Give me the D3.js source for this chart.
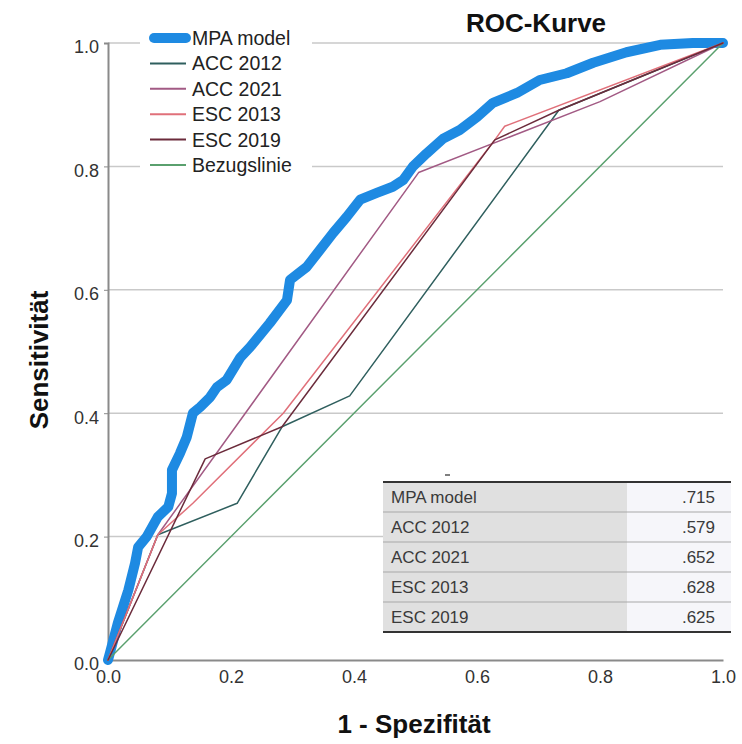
<!DOCTYPE html>
<html>
<head>
<meta charset="utf-8">
<script src="https://cdn.jsdelivr.net/npm/d3@7"></script>
<style>
  html, body { margin: 0; padding: 0; background: #fff; }
  svg { display: block; font-family: "Liberation Sans", Arial, sans-serif; }
</style>
</head>
<body>
<svg id="chart" width="742" height="744"></svg>
<script>
// ---------- DATA ----------
const seriesNames = ["MPA model", "ACC 2012", "ACC 2021", "ESC 2013", "ESC 2019", "Bezugslinie"];
const aucValues = [".715", ".579", ".652", ".628", ".625"];
const tickValues = [0, 0.2, 0.4, 0.6, 0.8, 1.0];

const mpaFpr = [0, 0.003, 0.016, 0.033, 0.044, 0.049, 0.063, 0.081, 0.098, 0.104, 0.104, 0.117, 0.128, 0.138, 0.15, 0.166, 0.177, 0.193, 0.215, 0.231, 0.263, 0.291, 0.296, 0.323, 0.345, 0.366, 0.388, 0.41, 0.437, 0.463, 0.48, 0.496, 0.518, 0.545, 0.572, 0.6, 0.626, 0.665, 0.702, 0.746, 0.789, 0.843, 0.898, 0.951, 1];
const mpaTpr = [0, 0.011, 0.06, 0.113, 0.157, 0.183, 0.2, 0.232, 0.248, 0.27, 0.308, 0.335, 0.361, 0.4, 0.41, 0.426, 0.442, 0.454, 0.49, 0.507, 0.546, 0.583, 0.616, 0.637, 0.665, 0.692, 0.718, 0.746, 0.757, 0.767, 0.778, 0.8, 0.821, 0.845, 0.859, 0.88, 0.903, 0.919, 0.94, 0.951, 0.968, 0.985, 0.997, 1, 1];

const acc2012Fpr = [0, 0.081, 0.21, 0.283, 0.393, 0.733, 1];
const acc2012Tpr = [0, 0.203, 0.254, 0.378, 0.428, 0.891, 1];

const acc2021Fpr = [0, 0.081, 0.505, 0.8, 1];
const acc2021Tpr = [0, 0.203, 0.79, 0.905, 1];

const esc2013Fpr = [0, 0.081, 0.138, 0.285, 0.629, 0.645, 1];
const esc2013Tpr = [0, 0.203, 0.254, 0.40, 0.843, 0.865, 1];

const esc2019Fpr = [0, 0.158, 0.283, 0.629, 0.733, 1];
const esc2019Tpr = [0, 0.326, 0.378, 0.843, 0.891, 1];

const refFpr = [0, 1];
const refTpr = [0, 1];

// ---------- STYLE ----------
const colors = ["#1e8ae2", "#2f5f5e", "#a25a84", "#e0707a", "#6b2b3b", "#5aa06e"];
const widths = [10, 1.5, 1.5, 1.5, 1.5, 1.5];

const svg = d3.select("#chart");
const x = d3.scaleLinear().domain([0, 1]).range([108, 723]);
const y = d3.scaleLinear().domain([0, 1]).range([660, 43]);

// Gridlines (horizontal)
svg.append("g").selectAll("line").data(tickValues.filter(d => d > 0)).join("line")
  .attr("x1", x(0)).attr("x2", x(1))
  .attr("y1", d => y(d)).attr("y2", d => y(d))
  .attr("stroke", "#c9c9c9").attr("stroke-width", 1.5);

// Axes
const yAxis = d3.axisLeft(y).tickValues(tickValues).tickFormat(d3.format(".1f")).tickSize(4).tickPadding(5);
const xAxis = d3.axisBottom(x).tickValues(tickValues).tickFormat(d3.format(".1f")).tickSize(0).tickPadding(10);

const gy = svg.append("g").attr("transform", `translate(${x(0)},0)`).call(yAxis);
const gx = svg.append("g").attr("transform", `translate(0,${y(0)})`).call(xAxis);
[gy, gx].forEach(g => {
  g.select(".domain").attr("stroke", "#8a8a8a").attr("stroke-width", 2);
  g.selectAll(".tick line").attr("stroke", "#8a8a8a");
  g.selectAll(".tick text").attr("fill", "#333").style("font-size", "18px")
    .style("font-family", '"Liberation Sans", Arial, sans-serif');
});
gy.selectAll(".tick text").attr("dy", "0.55em");

// Curves
const seriesFpr = [mpaFpr, acc2012Fpr, acc2021Fpr, esc2013Fpr, esc2019Fpr, refFpr];
const seriesTpr = [mpaTpr, acc2012Tpr, acc2021Tpr, esc2013Tpr, esc2019Tpr, refTpr];
const line = d3.line().x(d => x(d[0])).y(d => y(d[1]));
const drawOrder = [0, 5, 1, 2, 3, 4];
drawOrder.forEach(i => {
  const pts = seriesFpr[i].map((v, k) => [v, seriesTpr[i][k]]);
  svg.append("path").datum(pts)
    .attr("d", line)
    .attr("fill", "none")
    .attr("stroke", colors[i])
    .attr("stroke-width", widths[i])
    .attr("stroke-linejoin", "round")
    .attr("stroke-linecap", "round");
});

// Title
svg.append("text").attr("x", 536).attr("y", 32).attr("text-anchor", "middle")
  .style("font-size", "26px").style("font-weight", "bold").attr("fill", "#111").text("ROC-Kurve");

// Axis titles
svg.append("text").attr("x", 414).attr("y", 733).attr("text-anchor", "middle")
  .style("font-size", "26px").style("font-weight", "bold").attr("fill", "#111").text("1 - Spezifität");
svg.append("text").attr("transform", "translate(48,360) rotate(-90)").attr("text-anchor", "middle")
  .style("font-size", "26px").style("font-weight", "bold").attr("fill", "#111").text("Sensitivität");

// Legend
const lg = svg.append("g");
lg.append("rect").attr("x", 140).attr("y", 24).attr("width", 172).attr("height", 154).attr("fill", "#fff");
const rowY = d3.scaleLinear().domain([0, 5]).range([38, 165]);
seriesNames.forEach((name, i) => {
  const cy = rowY(i);
  lg.append("line").attr("x1", i === 0 ? 154 : 150).attr("x2", 186)
    .attr("y1", cy).attr("y2", cy)
    .attr("stroke", colors[i]).attr("stroke-width", i === 0 ? 10 : 2)
    .attr("stroke-linecap", i === 0 ? "round" : "butt");
  lg.append("text").attr("x", 192).attr("y", cy + 7)
    .style("font-size", "19.5px").attr("fill", "#222").text(name);
});

// AUC table
const tg = svg.append("g");
const tLeft = 383, tMid = 627, tRight = 731, tTop = 482, rowH = 30;
const rowsY = d3.scaleLinear().domain([0, 5]).range([tTop, tTop + 5 * rowH]);
tg.append("rect").attr("x", tLeft).attr("y", tTop).attr("width", tMid - tLeft).attr("height", 5 * rowH).attr("fill", "#e0e0e0");
tg.append("rect").attr("x", tMid).attr("y", tTop).attr("width", tRight - tMid).attr("height", 5 * rowH).attr("fill", "#f6f6fa");
seriesNames.slice(0, 5).forEach((name, i) => {
  const top = rowsY(i);
  if (i > 0) {
    tg.append("line").attr("x1", tLeft).attr("x2", tRight).attr("y1", top).attr("y2", top)
      .attr("stroke", "#a8a8a8").attr("stroke-width", 1);
  }
  tg.append("text").attr("x", tLeft + 8).attr("y", top + rowH / 2 + 6)
    .style("font-size", "17px").attr("fill", "#3a3a3a").text(name);
  tg.append("text").attr("x", 715).attr("y", top + rowH / 2 + 6).attr("text-anchor", "end")
    .style("font-size", "17px").attr("fill", "#3a3a3a").text(aucValues[i]);
});
tg.append("line").attr("x1", tLeft).attr("x2", tRight).attr("y1", tTop).attr("y2", tTop)
  .attr("stroke", "#333").attr("stroke-width", 2);
tg.append("line").attr("x1", tLeft).attr("x2", tRight).attr("y1", rowsY(5)).attr("y2", rowsY(5))
  .attr("stroke", "#333").attr("stroke-width", 2);
tg.append("line").attr("x1", 445).attr("x2", 450).attr("y1", 475).attr("y2", 475)
  .attr("stroke", "#555").attr("stroke-width", 1.5);
</script>
</body>
</html>
